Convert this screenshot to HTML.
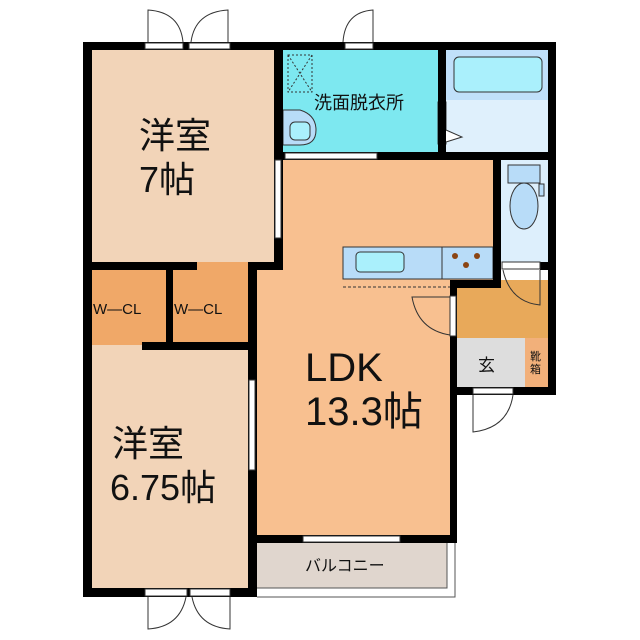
<!DOCTYPE html>
<html><head><meta charset="utf-8"><style>
html,body{margin:0;padding:0;background:#fff;}
svg{display:block;}
text{font-family:"Liberation Sans","Noto Sans CJK JP",sans-serif;fill:#111;}
</style></head><body>
<svg width="640" height="640" viewBox="0 0 640 640" xmlns="http://www.w3.org/2000/svg">
<!-- room fills -->
<rect x="92" y="50" width="182" height="212" fill="#f2d4b8"/>
<rect x="92" y="270" width="74" height="75" fill="#f0a868"/>
<rect x="173" y="262" width="80" height="83" fill="#f0a868"/>
<rect x="92" y="345" width="156" height="243" fill="#f2d4b8"/>
<polygon points="283,160 493,160 493,280 450,280 450,535 257,535 257,270 283,270" fill="#f8c090"/>
<rect x="283" y="50" width="155" height="102" fill="#7de8f0"/>
<rect x="446" y="50" width="102" height="102" fill="#dff0fc"/>
<rect x="446" y="50" width="102" height="50" fill="#c0e0fa"/>
<rect x="454" y="57" width="88" height="35" rx="5" fill="#aaf0fc" stroke="#333" stroke-width="1"/>
<rect x="501" y="160" width="47" height="102" fill="#ddeffc"/>
<rect x="457" y="280" width="91" height="58" fill="#e8a95a"/>
<rect x="457" y="338" width="68" height="49" fill="#dddddd"/>
<rect x="525" y="338" width="23" height="49" fill="#f2b07a"/>
<rect x="257" y="543" width="190" height="45" fill="#e0d6ce"/>
<polyline points="447,543 447,588 257,588" fill="none" stroke="#555" stroke-width="1"/>
<polyline points="455,543 455,597 257,597" fill="none" stroke="#555" stroke-width="1"/>
<!-- kitchen counter -->
<rect x="343" y="247" width="150" height="32" fill="#b8dcf8" stroke="#333" stroke-width="1"/>
<line x1="442" y1="247" x2="442" y2="279" stroke="#333"/>
<rect x="356" y="252" width="48" height="20" rx="4" fill="#aaf0fc" stroke="#333"/>
<circle cx="455" cy="256" r="3" fill="#8b4513"/><circle cx="477" cy="256" r="3" fill="#8b4513"/><circle cx="466" cy="265" r="3" fill="#8b4513"/>
<line x1="343" y1="287" x2="450" y2="287" stroke="#333" stroke-dasharray="3,2"/>
<!-- washroom details -->
<rect x="288" y="55" width="24" height="37" fill="none" stroke="#333" stroke-dasharray="2,2"/>
<line x1="288" y1="55" x2="312" y2="92" stroke="#333" stroke-dasharray="2,2"/>
<line x1="312" y1="55" x2="288" y2="92" stroke="#333" stroke-dasharray="2,2"/>
<path d="M283,110 L300,110 Q316,115 316,130 Q316,145 300,145 L283,145 Z" fill="#b8dcf8" stroke="#333"/>
<rect x="290" y="122" width="20" height="18" rx="5" fill="#aaf0fc" stroke="#333"/>
<rect x="438" y="102" width="8" height="42" fill="#fff" stroke="#333"/>
<path d="M446,130 L462,137 L446,142" fill="#fff" stroke="#333"/>
<!-- toilet -->
<rect x="508" y="165" width="32" height="18" fill="#b8dcf8" stroke="#333"/>
<rect x="539" y="184" width="5" height="12" fill="#b8dcf8" stroke="#333"/>
<ellipse cx="524" cy="206" rx="14" ry="23" fill="#b8dcf8" stroke="#333"/>
<!-- walls -->
<g fill="#000">
<rect x="83" y="42" width="9" height="555"/>
<rect x="83" y="42" width="473" height="8"/>
<rect x="548" y="42" width="8" height="353"/>
<rect x="274" y="50" width="9" height="220"/>
<rect x="438" y="50" width="8" height="110"/>
<rect x="283" y="152" width="273" height="8"/>
<rect x="493" y="152" width="8" height="130"/>
<rect x="83" y="262" width="114" height="8"/>
<rect x="248" y="262" width="35" height="8"/>
<rect x="248" y="262" width="9" height="335"/>
<rect x="166" y="262" width="7" height="88"/>
<rect x="142" y="342" width="115" height="8"/>
<rect x="450" y="280" width="51" height="8"/>
<rect x="450" y="280" width="7" height="263"/>
<rect x="540" y="262" width="16" height="8"/>
<rect x="450" y="387" width="106" height="8"/>
<rect x="257" y="535" width="200" height="8"/>
<rect x="83" y="588" width="174" height="9"/>
</g>
<!-- openings / windows -->
<g fill="#fff" stroke="#333" stroke-width="1">
<rect x="145" y="43" width="38" height="6"/><rect x="189" y="43" width="41" height="6"/>
<rect x="145" y="589" width="42" height="7"/><rect x="190" y="589" width="40" height="7"/>
<rect x="345" y="43" width="28" height="6"/>
<rect x="285" y="153" width="92" height="6"/>
<rect x="275" y="160" width="6" height="78"/>
<rect x="249" y="380" width="6" height="90"/>
<rect x="303" y="536" width="97" height="6"/>
<rect x="473" y="388" width="40" height="6"/>
<rect x="502" y="262" width="38" height="7"/>
<rect x="450" y="296" width="6" height="40"/>
</g>
<!-- door swings -->
<g fill="none" stroke="#333" stroke-width="1">
<path d="M148,42 L148,10 Q180,12 183,42"/>
<path d="M228,42 L228,10 Q195,12 191,42"/>
<path d="M148,597 L148,629 Q180,627 186,597"/>
<path d="M230,597 L230,629 Q198,627 192,597"/>
<path d="M373,42 L373,10 Q345,12 343,42"/>
<path d="M540,270 L540,305 Q510,302 503,270"/>
<path d="M450,335 Q418,330 412,297 L450,297"/>
<path d="M473,395 L473,432 Q508,428 513,395"/>
</g>
<!-- labels -->
<text x="139" y="148" font-size="36">洋室</text>
<text x="139" y="192" font-size="36">7帖</text>
<text x="314" y="109" font-size="18">洗面脱衣所</text>
<text x="93" y="314" font-size="15">W—CL</text>
<text x="174" y="314" font-size="15">W—CL</text>
<text x="305" y="381" font-size="40">LDK</text>
<text x="305" y="425" font-size="40">13.3帖</text>
<text x="112" y="456" font-size="36">洋室</text>
<text x="110" y="500" font-size="36">6.75帖</text>
<text x="478" y="371" font-size="17">玄</text>
<text x="530" y="360" font-size="11">靴</text>
<text x="530" y="373" font-size="11">箱</text>
<text x="305" y="571" font-size="16">バルコニー</text>
</svg>
</body></html>
